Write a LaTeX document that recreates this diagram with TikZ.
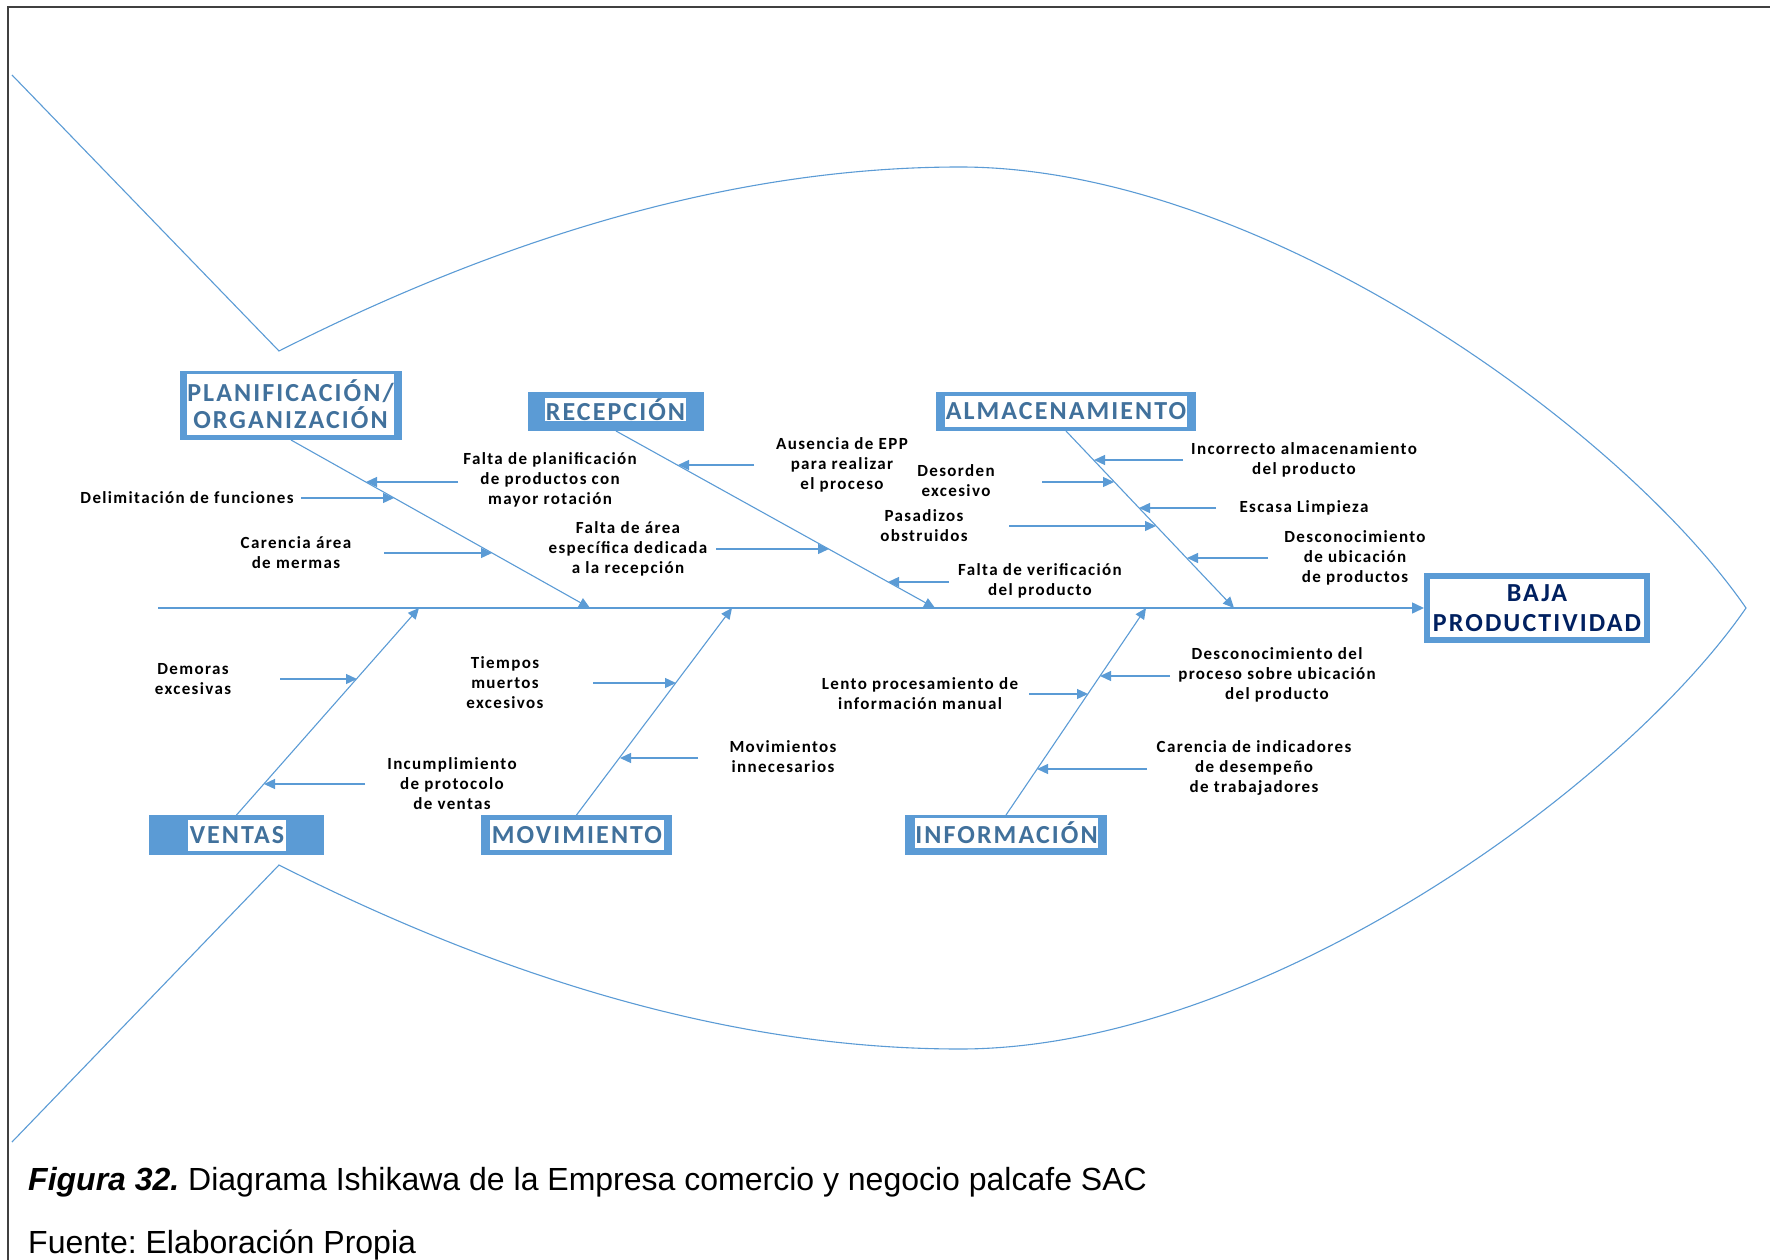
\documentclass[tikz,border=0pt]{standalone}
\usepackage{fontspec}
\setmainfont{Liberation Sans}
\newfontfamily\calibrifont[LetterSpace=8]{Carlito}
\usetikzlibrary{arrows.meta}
\frenchspacing

\definecolor{fishblue}{HTML}{5B9BD5}
\definecolor{catblue}{HTML}{41719C}
\definecolor{headnavy}{HTML}{002060}
\definecolor{framegray}{HTML}{404040}

\newcommand\causefont{\calibrifont\bfseries\fontsize{17}{20}\selectfont}
\newcommand\catfont{\calibrifont\bfseries\fontsize{26}{27}\selectfont}
\newcommand\headfont{\calibrifont\bfseries\fontsize{26}{30}\selectfont}

\tikzset{
  fishline/.style={draw=fishblue, line width=1.1pt},
  bonearrow/.style={draw=fishblue, line width=1.1pt, -{Triangle[length=11pt,width=10pt]}},
  spinearrow/.style={draw=fishblue, line width=1.5pt, -{Triangle[length=12pt,width=11pt]}},
  causearrow/.style={draw=fishblue, line width=1.3pt, -{Triangle[length=11pt,width=10pt]}},
  catback/.style={fill=fishblue, draw=none, inner sep=0pt, outer sep=0pt},
  catlabel/.style={fill=white, text=catblue, font=\catfont, inner sep=0pt, align=center},
  causelabel/.style={font=\causefont, align=center, inner sep=1pt},
  headbox/.style={draw=fishblue, line width=6pt, fill=white, text=headnavy, font=\headfont,
    align=center, inner sep=0pt, minimum width=220pt, minimum height=64pt}
}

\begin{document}
\begin{tikzpicture}[x=1pt, y=-1pt]
\useasboundingbox (0,0) rectangle (1770,1260);

% page frame (top and left rules)
\draw[framegray, line width=2pt] (8,1260) -- (8,7) -- (1770,7);

% fish outline: tail and body
\draw[fishline] (12,75) -- (279,351)
  .. controls (522,228) and (749,167) .. (960,167)
  .. controls (1260,167) and (1621,427) .. (1746,608)
  .. controls (1621,789) and (1260,1049) .. (960,1049)
  .. controls (749,1049) and (522,988) .. (279,865) -- (12,1142);

% head
\node[headbox] (baja) at (1537,608) {BAJA\\PRODUCTIVIDAD};

% spine
\coordinate (tailend) at (158,608);
\draw[spinearrow] (tailend) -- (baja.west);

% joints on the spine
\coordinate (jP) at (590,608);
\coordinate (jR) at (935,608);
\coordinate (jA) at (1234,608);
\coordinate (jV) at (419,608);
\coordinate (jM) at (732,608);
\coordinate (jI) at (1146,608);

% category boxes
\node[catback, minimum width=222pt, minimum height=69pt] (planif) at (291,405.5) {};
\node[catlabel, minimum width=205pt, minimum height=61pt] (planifT) at (290.5,404) {PLANIFICACIÓN/\\ORGANIZACIÓN};

\node[catback, minimum width=176pt, minimum height=39pt] (recep) at (616,411.5) {};
\node[catlabel, minimum width=141pt, minimum height=23pt] (recepT) at (615.5,409.5) {RECEPCIÓN};

\node[catback, minimum width=260pt, minimum height=39pt] (almac) at (1066,411.5) {};
\node[catlabel, minimum width=242pt, minimum height=31pt] (almacT) at (1066,411.5) {ALMACENAMIENTO};

\node[catback, minimum width=175pt, minimum height=40pt] (ventas) at (236.5,835) {};
\node[catlabel, minimum width=98pt, minimum height=31pt] (ventasT) at (237,835.5) {VENTAS};

\node[catback, minimum width=191pt, minimum height=40pt] (movim) at (576.5,835) {};
\node[catlabel, minimum width=174pt, minimum height=30pt] (movimT) at (577,835) {MOVIMIENTO};

\node[catback, minimum width=202pt, minimum height=40pt] (inform) at (1006,835) {};
\node[catlabel, minimum width=183pt, minimum height=30pt] (informT) at (1006.5,833) {INFORMACIÓN};

% main bones
\draw[bonearrow] (planif.south) -- (jP);
\draw[bonearrow] (recep.south) -- (jR);
\draw[bonearrow] (almac.south) -- (jA);
\draw[bonearrow] (ventas.north) -- (jV);
\draw[bonearrow] (movim.north) -- (jM);
\draw[bonearrow] (inform.north) -- (jI);

% ---------- PLANIFICACIÓN / ORGANIZACIÓN ----------
\node[causelabel] (p1) at (550,480) {Falta de planificación\\de productos con\\mayor rotación};
\coordinate (p1s) at (458,482); \coordinate (p1t) at (366,482);
\draw[causearrow] (p1s) -- (p1t);

\node[causelabel] (p2) at (187,498) {Delimitación de funciones};
\coordinate (p2s) at (301,498); \coordinate (p2t) at (394,498);
\draw[causearrow] (p2s) -- (p2t);

\node[causelabel] (p3) at (296,553) {Carencia área\\de mermas};
\coordinate (p3s) at (384,553); \coordinate (p3t) at (492,553);
\draw[causearrow] (p3s) -- (p3t);

% ---------- RECEPCIÓN ----------
\node[causelabel] (r1) at (842,465) {Ausencia de EPP\\para realizar\\el proceso};
\coordinate (r1s) at (754,465); \coordinate (r1t) at (678,465);
\draw[causearrow] (r1s) -- (r1t);

\node[causelabel] (r2) at (628,549) {Falta de área\\específica dedicada\\a la recepción};
\coordinate (r2s) at (716,549); \coordinate (r2t) at (829,549);
\draw[causearrow] (r2s) -- (r2t);

\node[causelabel] (r3) at (1040,581) {Falta de verificación\\del producto};
\coordinate (r3s) at (949,582); \coordinate (r3t) at (888,582);
\draw[causearrow] (r3s) -- (r3t);

% ---------- ALMACENAMIENTO ----------
\node[causelabel] (a1) at (1304,460) {Incorrecto almacenamiento\\del producto};
\coordinate (a1s) at (1183,460); \coordinate (a1t) at (1094,460);
\draw[causearrow] (a1s) -- (a1t);

\node[causelabel] (a2) at (956,481) {Desorden\\excesivo};
\coordinate (a2s) at (1042,482); \coordinate (a2t) at (1114,482);
\draw[causearrow] (a2s) -- (a2t);

\node[causelabel] (a3) at (1304,508) {Escasa Limpieza};
\coordinate (a3s) at (1216,508); \coordinate (a3t) at (1139,508);
\draw[causearrow] (a3s) -- (a3t);

\node[causelabel] (a4) at (924,526) {Pasadizos\\obstruidos};
\coordinate (a4s) at (1009,526); \coordinate (a4t) at (1156,526);
\draw[causearrow] (a4s) -- (a4t);

\node[causelabel] (a5) at (1355,558) {Desconocimiento\\de ubicación\\de productos};
\coordinate (a5s) at (1268,558); \coordinate (a5t) at (1187,558);
\draw[causearrow] (a5s) -- (a5t);

% ---------- VENTAS ----------
\node[causelabel] (v1) at (193,679) {Demoras\\excesivas};
\coordinate (v1s) at (280,679); \coordinate (v1t) at (357,679);
\draw[causearrow] (v1s) -- (v1t);

\node[causelabel] (v2) at (452,784) {Incumplimiento\\de protocolo\\de ventas};
\coordinate (v2s) at (365,784); \coordinate (v2t) at (264,784);
\draw[causearrow] (v2s) -- (v2t);

% ---------- MOVIMIENTO ----------
\node[causelabel] (m1) at (505,683) {Tiempos\\muertos\\excesivos};
\coordinate (m1s) at (593,683); \coordinate (m1t) at (676,683);
\draw[causearrow] (m1s) -- (m1t);

\node[causelabel] (m2) at (783,757) {Movimientos\\innecesarios};
\coordinate (m2s) at (698,758); \coordinate (m2t) at (620,758);
\draw[causearrow] (m2s) -- (m2t);

% ---------- INFORMACIÓN ----------
\node[causelabel] (i1) at (1277,675) {Desconocimiento del\\proceso sobre ubicación\\del producto};
\coordinate (i1s) at (1170,676); \coordinate (i1t) at (1100,676);
\draw[causearrow] (i1s) -- (i1t);

\node[causelabel] (i2) at (920,694) {Lento procesamiento de\\información manual};
\coordinate (i2s) at (1029,694); \coordinate (i2t) at (1088,694);
\draw[causearrow] (i2s) -- (i2t);

\node[causelabel] (i3) at (1254,768) {Carencia de indicadores\\de desempeño\\de trabajadores};
\coordinate (i3s) at (1147,769); \coordinate (i3t) at (1037,769);
\draw[causearrow] (i3s) -- (i3t);

% caption
\node[anchor=base west, inner sep=0pt, font=\fontsize{32}{36}\selectfont] (cap1) at (28,1190)
  {\textbf{\textit{Figura 32.}} Diagrama Ishikawa de la Empresa comercio y negocio palcafe SAC};
\node[anchor=base west, inner sep=0pt, font=\fontsize{32}{36}\selectfont] (cap2) at (28,1253)
  {Fuente: Elaboración Propia};
\end{tikzpicture}
\end{document}
